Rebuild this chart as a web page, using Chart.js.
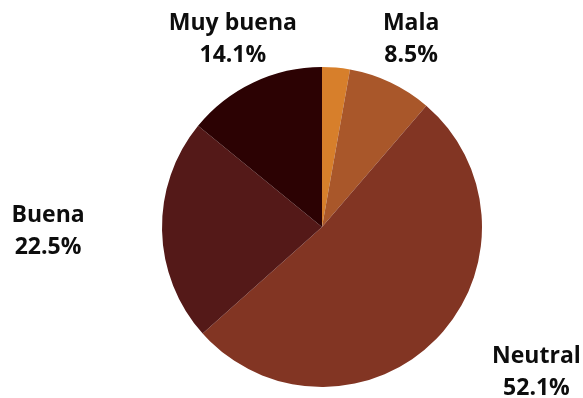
<!DOCTYPE html>
<html lang="es">
<head>
  <meta charset="UTF-8" />
  <title>Valoración</title>
  <script src="https://cdn.jsdelivr.net/npm/chart.js"></script>
  <style>
    html, body {
      margin: 0;
      padding: 0;
      background: #ffffff;
    }
    #wrap {
      width: 583px;
      height: 398px;
    }
  </style>
</head>
<body>
  <div id="wrap"><canvas id="pieChart" width="583" height="398"></canvas></div>

  <script>
    const categorias = ['Muy mala', 'Mala', 'Neutral', 'Buena', 'Muy buena'];
    const porcentajes = [2.8, 8.5, 52.1, 22.5, 14.1];
    const colores = ['#D77F2B', '#A9572A', '#823523', '#541918', '#2C0203'];

    // etiquetas fuera de la tarta: nombre y porcentaje, en dos líneas
    const etiquetasFuera = {
      id: 'etiquetasFuera',
      afterDatasetsDraw(chart) {
        const ctx = chart.ctx;
        const meta = chart.getDatasetMeta(0);
        ctx.save();
        ctx.font = 'bold 23px "Open Sans", "Noto Sans", sans-serif';
        ctx.fillStyle = '#0d0d0d';
        ctx.textAlign = 'center';
        ctx.textBaseline = 'middle';
        meta.data.forEach((arc, i) => {
          const valor = porcentajes[i];
          if (valor < 5) return;
          const p = arc.getProps(['x', 'y', 'startAngle', 'endAngle', 'outerRadius'], true);
          const medio = (p.startAngle + p.endAngle) / 2;
          const dx = Math.cos(medio);
          const dy = Math.sin(medio);
          const dist = p.outerRadius + 48;
          // las etiquetas laterales se separan un poco más en horizontal
          const extra = Math.abs(dx) > 0.5 ? Math.sign(dx) * 66 : 0;
          const x = p.x + dx * dist + extra;
          const y = p.y + dy * dist;
          ctx.fillText(categorias[i], x, y - 16);
          ctx.fillText(valor.toFixed(1) + '%', x, y + 16);
        });
        ctx.restore();
      }
    };

    new Chart(document.getElementById('pieChart').getContext('2d'), {
      type: 'pie',
      data: {
        labels: categorias,
        datasets: [{
          data: porcentajes,
          backgroundColor: colores,
          borderWidth: 0
        }]
      },
      options: {
        responsive: false,
        animation: false,
        layout: {
          padding: { left: 162, right: 101, top: 67, bottom: 11 }
        },
        plugins: {
          legend: { display: false },
          tooltip: { enabled: false }
        }
      },
      plugins: [etiquetasFuera]
    });
  </script>
</body>
</html>
